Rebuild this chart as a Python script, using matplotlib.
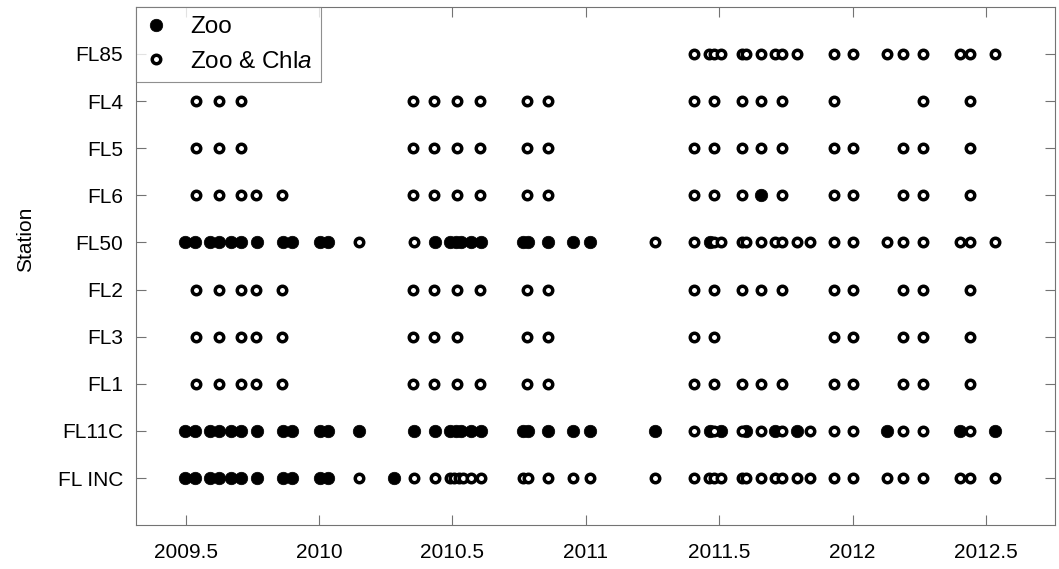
import matplotlib
matplotlib.use("Agg")
from matplotlib import pyplot as plt

plt.rcParams['font.family'] = ['Liberation Sans', 'DejaVu Sans']
plt.rcParams['mathtext.fontset'] = 'custom'
plt.rcParams['mathtext.rm'] = 'Liberation Sans'
plt.rcParams['mathtext.it'] = 'Liberation Sans:italic'

# stations from bottom to top
stations = ['FL INC', 'FL11C', 'FL1', 'FL3', 'FL2', 'FL50', 'FL6', 'FL5', 'FL4', 'FL85']

# sampling dates (decimal year): zooplankton only
zoo_dates = {
    'FL85': [],
    'FL4': [],
    'FL5': [],
    'FL6': [2011.656],
    'FL50': [2009.496, 2009.537, 2009.590, 2009.627, 2009.671, 2009.709, 2009.767,
             2009.865, 2009.900, 2010.002, 2010.033, 2010.436, 2010.490, 2010.512,
             2010.533, 2010.571, 2010.609, 2010.764, 2010.783, 2010.858, 2010.952,
             2011.015, 2011.465],
    'FL2': [],
    'FL3': [],
    'FL1': [],
    'FL11C': [2009.496, 2009.537, 2009.590, 2009.627, 2009.671, 2009.709, 2009.767,
              2009.865, 2009.900, 2010.002, 2010.033, 2010.150, 2010.356, 2010.436,
              2010.490, 2010.512, 2010.533, 2010.571, 2010.609, 2010.764, 2010.783,
              2010.858, 2010.952, 2011.015, 2011.258, 2011.465, 2011.508, 2011.602,
              2011.711, 2011.793, 2012.129, 2012.402, 2012.533],
    'FL INC': [2009.496, 2009.537, 2009.590, 2009.627, 2009.671, 2009.709, 2009.767,
               2009.865, 2009.900, 2010.002, 2010.033, 2010.283],
}

# sampling dates (decimal year): zooplankton and chlorophyll a
chla_dates = {
    'FL85': [2011.406, 2011.462, 2011.482, 2011.508, 2011.587, 2011.602, 2011.656,
             2011.711, 2011.736, 2011.793, 2011.931, 2012.002, 2012.129, 2012.189,
             2012.264, 2012.402, 2012.439, 2012.533],
    'FL4': [2009.540, 2009.627, 2009.709, 2010.352, 2010.433, 2010.517, 2010.605,
            2010.779, 2010.858, 2011.406, 2011.482, 2011.587, 2011.656, 2011.736,
            2011.931, 2012.264, 2012.439],
    'FL5': [2009.540, 2009.627, 2009.709, 2010.352, 2010.433, 2010.517, 2010.605,
            2010.779, 2010.858, 2011.406, 2011.482, 2011.587, 2011.656, 2011.736,
            2011.931, 2012.002, 2012.189, 2012.264, 2012.439],
    'FL6': [2009.540, 2009.627, 2009.709, 2009.765, 2009.862, 2010.352, 2010.433,
            2010.517, 2010.605, 2010.779, 2010.858, 2011.406, 2011.482, 2011.587,
            2011.736, 2011.931, 2012.002, 2012.189, 2012.264, 2012.439],
    'FL50': [2010.150, 2010.356, 2011.258, 2011.406, 2011.482, 2011.508, 2011.587,
             2011.602, 2011.656, 2011.711, 2011.736, 2011.793, 2011.840, 2011.931,
             2012.002, 2012.129, 2012.189, 2012.264, 2012.402, 2012.439, 2012.533],
    'FL2': [2009.540, 2009.627, 2009.709, 2009.765, 2009.862, 2010.352, 2010.433,
            2010.517, 2010.605, 2010.779, 2010.858, 2011.406, 2011.482, 2011.587,
            2011.656, 2011.736, 2011.931, 2012.002, 2012.189, 2012.264, 2012.439],
    'FL3': [2009.540, 2009.627, 2009.709, 2009.765, 2009.862, 2010.352, 2010.433,
            2010.517, 2010.779, 2010.858, 2011.406, 2011.482, 2011.931, 2012.002,
            2012.189, 2012.264, 2012.439],
    'FL1': [2009.540, 2009.627, 2009.709, 2009.765, 2009.862, 2010.352, 2010.433,
            2010.517, 2010.605, 2010.779, 2010.858, 2011.406, 2011.482, 2011.587,
            2011.656, 2011.736, 2011.931, 2012.002, 2012.189, 2012.264, 2012.439],
    'FL11C': [2011.406, 2011.482, 2011.587, 2011.656, 2011.736, 2011.840, 2011.931,
              2012.002, 2012.189, 2012.264, 2012.439],
    'FL INC': [2010.150, 2010.356, 2010.436, 2010.490, 2010.506, 2010.525, 2010.540,
               2010.571, 2010.609, 2010.764, 2010.783, 2010.858, 2010.952, 2011.015,
               2011.258, 2011.406, 2011.462, 2011.482, 2011.508, 2011.587, 2011.602,
               2011.656, 2011.711, 2011.736, 2011.793, 2011.840, 2011.931, 2012.002,
               2012.129, 2012.189, 2012.264, 2012.402, 2012.439, 2012.533],
}

xticks = [2009.5, 2010, 2010.5, 2011, 2011.5, 2012, 2012.5]
xtick_labels = ['2009.5', '2010', '2010.5', '2011', '2011.5', '2012', '2012.5']

fig = plt.figure(figsize=(10.59, 5.69), dpi=100)
ax = fig.add_axes([0.128, 0.077, 0.868, 0.911])

for i, st in enumerate(stations):
    row = i + 1
    z = zoo_dates[st]
    c = chla_dates[st]
    ax.plot(z, [row] * len(z), linestyle='none', marker='o', ms=9,
            mfc='black', mec='black', mew=0.5,
            label='Zoo' if i == 0 else None)
    ax.plot(c, [row] * len(c), linestyle='none', marker='o', ms=6.1,
            mfc='white', mec='black', mew=2.5,
            label='Zoo & Chl$\\it{a}$' if i == 0 else None)

ax.set_xlim(2009.3125, 2012.758)
ax.set_ylim(0, 11)
ax.set_xticks(xticks)
ax.set_xticklabels(xtick_labels)
ax.set_yticks(range(1, len(stations) + 1))
ax.set_yticklabels(stations)
ax.set_ylabel('Station', fontsize=15)
ax.yaxis.set_label_coords(-0.109, 0.552)

ax.tick_params(direction='in', top=True, right=True, length=7, width=0.8,
               color='0.45', labelsize=15, labelcolor='black')
ax.tick_params(axis='x', pad=13)
ax.tick_params(axis='y', pad=9)
for s in ax.spines.values():
    s.set_color('0.45')
    s.set_linewidth(0.8)

leg = ax.legend(loc='upper left', borderaxespad=0, fontsize=17.5, fancybox=False,
                frameon=True, handletextpad=0.89, borderpad=0.38, labelspacing=0.53,
                handlelength=0.96)
leg.get_frame().set_edgecolor('0.45')
leg.get_frame().set_linewidth(0.8)

fig.savefig('out.png', dpi=100)
